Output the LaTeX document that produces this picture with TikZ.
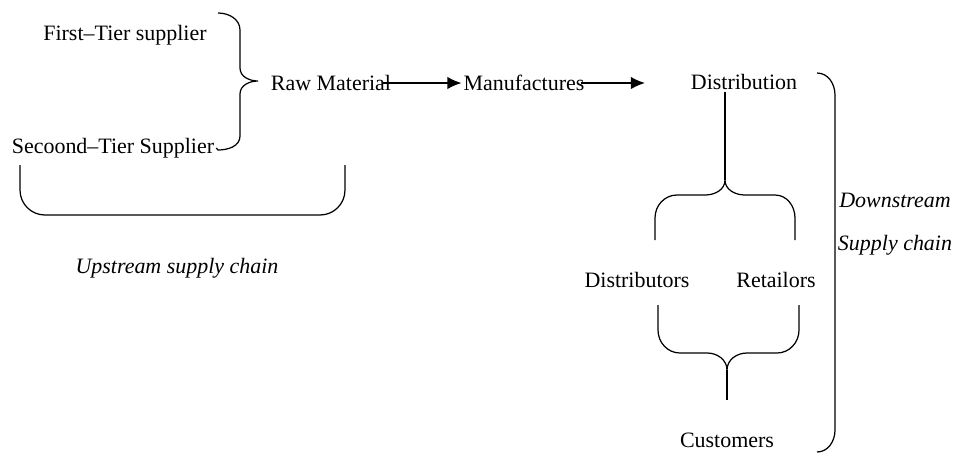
\documentclass[tikz,border=0pt]{standalone}
\usepackage{fontspec}
\usetikzlibrary{arrows.meta}
\setmainfont{Liberation Serif}

\begin{document}
\begin{tikzpicture}[x=0.02cm, y=-0.02cm, >={Latex[length=8pt,width=7pt]},
  lbl/.style={font=\fontsize{12.5}{15}\selectfont, inner sep=1pt},
  note/.style={font=\fontsize{12.5}{15}\selectfont\itshape, inner sep=1pt},
  brc/.style={line width=0.7pt}]
\useasboundingbox (0,0) rectangle (956,464);

\node (First Tier) at (125,35) [lbl] {First--Tier supplier};

\node (Second Tier) at (113,148) [lbl] {Secoond--Tier Supplier};

\node (Raw Material) at (331,83) [lbl] {Raw Material};

\node (Manufactures) at (524,83) [lbl] {Manufactures};

\node (Distribution) at (744,82) [lbl] {Distribution};

\node (Distributors) at (637,280) [lbl] {Distributors};

\node (Retailors) at (776,280) [lbl] {Retailors};

\node (Customers) at (727,440) [lbl] {Customers};

\node (Upstream) at (177,268) [note] {Upstream supply chain};

\node (Downstream) at (895,200) [note] {Downstream};

\node (Supply chain) at (895,245) [note] {Supply chain};

\coordinate (Arrow End) at (645,83);
\coordinate (Top Tip) at (725,180);
\coordinate (Bottom Tip) at (727,400);

% flow along the chain
\draw [->, line width=0.8pt] ([xshift=-0.2cm]Raw Material.east) -- (Manufactures.west);
\draw [->, line width=0.8pt] ([xshift=-0.1cm]Manufactures.east) -- (Arrow End);

% brace joining the two suppliers
\draw [brc] (218,13) to[out=0,in=90] (240,30) -- (240,68)
  to[out=-90,in=180] (258,81) to[out=180,in=90] (240,94) -- (240,136)
  to[out=-90,in=0] (218,150) -- (Second Tier.east);

% upstream bracket
\draw [brc] (20,165) -- (20,190) to[out=-90,in=180] (45,215) -- (320,215)
  to[out=0,in=-90] (345,190) -- (345,165);

% distribution splits
\draw [brc] (Distribution.south -| Top Tip) -- (Top Tip);
\draw [brc] (655,240) -- (655,218) to[out=90,in=180] (677,195) -- (705,195)
  to[out=0,in=-90] (Top Tip) to[out=-90,in=180] (745,195) -- (775,195)
  to[out=0,in=90] (795,218) -- (795,240);

% joining to customers
\draw [brc] (658,305) -- (658,330) to[out=-90,in=180] (680,353) -- (707,353)
  to[out=0,in=90] (727,370) to[out=90,in=180] (747,353) -- (777,353)
  to[out=0,in=-90] (799,330) -- (799,305);
\draw [brc] (727,370) -- (Bottom Tip);

% downstream bracket
\draw [brc] (817,73) to[out=0,in=90] (835,95) -- (835,430)
  to[out=-90,in=0] (817,452);
\end{tikzpicture}
\end{document}
